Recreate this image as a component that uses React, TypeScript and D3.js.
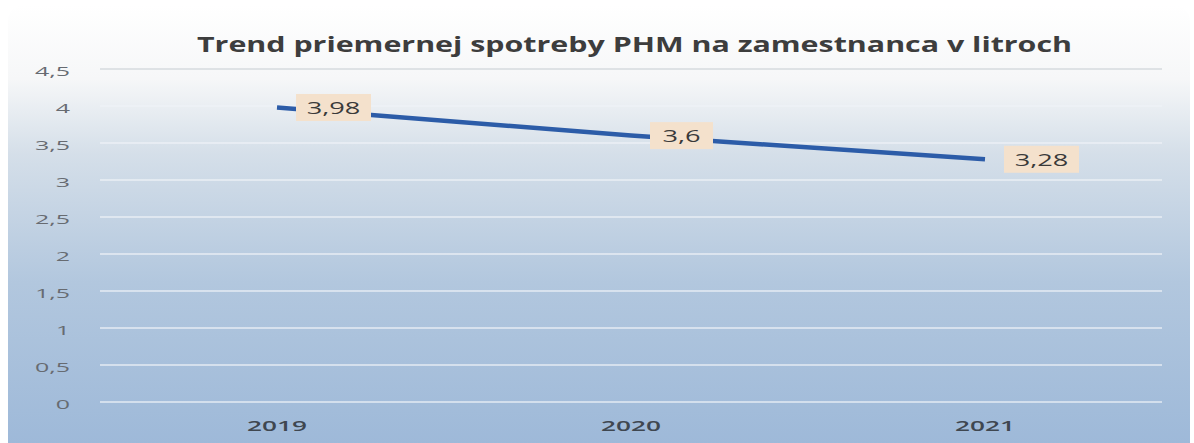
import { useEffect, useRef } from 'react';
import * as d3 from 'd3';

const title = 'Trend priemernej spotreby PHM na zamestnanca v litroch';
const years = ['2019', '2020', '2021'];
const consumption = [3.98, 3.6, 3.28];
const yTicks = [0, 0.5, 1, 1.5, 2, 2.5, 3, 3.5, 4, 4.5];

const fmt = (v: number) => String(v).replace('.', ',');

export default function App() {
  const ref = useRef<SVGSVGElement>(null);

  useEffect(() => {
    document.body.style.margin = '0';
    const W = 1194;
    const H = 443;
    const margin = { top: 69, right: 32, bottom: 41, left: 100 };
    const font = 'Open Sans, sans-serif';

    const svg = d3.select(ref.current);
    svg.selectAll('*').remove();
    svg.attr('width', W).attr('height', H);

    // background gradient (scanned Excel chart look)
    const defs = svg.append('defs');
    const grad = defs
      .append('linearGradient')
      .attr('id', 'bg')
      .attr('x1', 0)
      .attr('y1', 0)
      .attr('x2', 0)
      .attr('y2', 1);
    grad.append('stop').attr('offset', '0%').attr('stop-color', '#ffffff');
    grad.append('stop').attr('offset', '16%').attr('stop-color', '#f6f7f8');
    grad.append('stop').attr('offset', '32%').attr('stop-color', '#d5dfe9');
    grad.append('stop').attr('offset', '60%').attr('stop-color', '#b2c7de');
    grad.append('stop').attr('offset', '100%').attr('stop-color', '#9bb7d8');

    svg.append('rect').attr('width', W).attr('height', H).attr('fill', '#ffffff');
    svg
      .append('rect')
      .attr('x', 8)
      .attr('y', 5)
      .attr('width', W - 12)
      .attr('height', H + 20)
      .attr('rx', 16)
      .attr('fill', 'url(#bg)');

    const x = d3
      .scaleBand()
      .domain(years)
      .range([margin.left, W - margin.right]);
    const cx = (yr: string) => (x(yr) as number) + x.bandwidth() / 2;

    const y = d3
      .scaleLinear()
      .domain([0, 4.5])
      .range([H - margin.bottom, margin.top]);

    // gridlines
    svg
      .append('g')
      .selectAll('line')
      .data(yTicks)
      .join('line')
      .attr('x1', margin.left)
      .attr('x2', W - margin.right)
      .attr('y1', (d) => y(d))
      .attr('y2', (d) => y(d))
      .attr('stroke', (d) => (d === 4.5 ? '#d0d4d8' : '#eef2f7'))
      .attr('stroke-opacity', 0.85)
      .attr('stroke-width', 1.5);

    // y tick labels (stretched horizontally like the scan)
    svg
      .append('g')
      .selectAll('text')
      .data(yTicks)
      .join('text')
      .attr('transform', (d) => `translate(70,${y(d) + 2}) scale(1.85,1)`)
      .attr('dy', '0.35em')
      .attr('text-anchor', 'end')
      .attr('font-family', font)
      .attr('font-size', 13.5)
      .attr('fill', '#676b71')
      .text((d) => fmt(d));

    // x labels
    svg
      .append('g')
      .selectAll('text')
      .data(years)
      .join('text')
      .attr('transform', (d) => `translate(${cx(d)},426) scale(1.75,1)`)
      .attr('dy', '0.35em')
      .attr('text-anchor', 'middle')
      .attr('font-family', font)
      .attr('font-size', 15)
      .attr('font-weight', 600)
      .attr('fill', '#3f4750')
      .text((d) => d);

    // line
    const pts = years.map((yr, i) => ({ yr, v: consumption[i] }));
    const line = d3
      .line<{ yr: string; v: number }>()
      .x((d) => cx(d.yr))
      .y((d) => y(d.v));
    svg
      .append('path')
      .datum(pts)
      .attr('d', line)
      .attr('fill', 'none')
      .attr('stroke', '#2c5ca8')
      .attr('stroke-width', 4.5);

    // data labels
    const lbl = svg
      .append('g')
      .selectAll('g')
      .data(pts)
      .join('g')
      .attr('transform', (d) => `translate(${cx(d.yr) + 19},${y(d.v)})`);
    const bw = (d: { v: number }) => (fmt(d.v).length > 3 ? 75 : 63);
    lbl
      .append('rect')
      .attr('x', 0)
      .attr('y', -13.5)
      .attr('width', bw)
      .attr('height', 27)
      .attr('fill', '#f4e1cc');
    lbl
      .append('text')
      .attr('transform', (d) => `translate(${bw(d) / 2},1) scale(1.7,1)`)
      .attr('dy', '0.35em')
      .attr('text-anchor', 'middle')
      .attr('font-family', font)
      .attr('font-size', 16)
      .attr('fill', '#3a3a3a')
      .text((d) => fmt(d.v));

    // title
    svg
      .append('text')
      .attr('x', 197)
      .attr('y', 52)
      .attr('textLength', 875)
      .attr('lengthAdjust', 'spacingAndGlyphs')
      .attr('font-family', font)
      .attr('font-size', 22)
      .attr('font-weight', 700)
      .attr('fill', '#3d3d3d')
      .text(title);
  }, []);

  return <svg ref={ref} style={{ display: 'block' }} />;
}
